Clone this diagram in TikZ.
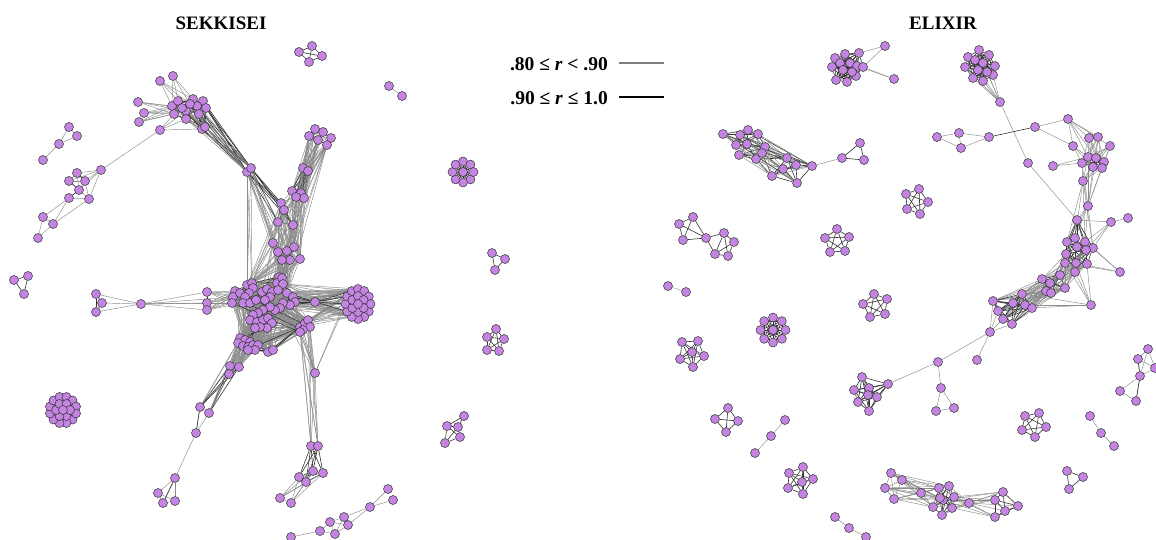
\documentclass[tikz,border=0pt]{standalone}
\usepackage{fontspec}
\setmainfont{Liberation Serif}
\pgfdeclarelayer{bgw}\pgfdeclarelayer{bg}\pgfsetlayers{bgw,bg,main}
\definecolor{nodefill}{RGB}{196,132,226}
\tikzset{
 nd/.style={circle,draw=black!80,fill=nodefill,line width=0.5pt,inner sep=0pt,minimum size=9pt},
 eg/.style={draw=black!45,line width=0.45pt},
 ek/.style={draw=black!80,line width=0.6pt},
 ttl/.style={font=\bfseries\fontsize{19}{22}\selectfont,inner sep=0pt},
 lgt/.style={font=\bfseries\fontsize{19.5}{23}\selectfont,inner sep=0pt}
}
\newcommand\mypts[2]{\foreach \x/\y [count=\k] in {#2} \node[nd] (#1\k) at (\x,\y) {};}
\newcommand\myring[7]{\foreach \k in {1,...,#6}\node[nd] (#1\k) at ({#2+#4*cos(#7+360*\k/#6)},{#3+#5*sin(#7+360*\k/#6)}) {};}
\newcommand\myclq[3]{\foreach \i in {1,...,#2}{\foreach \j in {1,...,#2}{\ifnum\i<\j\relax\draw[#3] (#1\i)--(#1\j);\fi}}}
\newcommand\mymesh[4]{\foreach \i in {1,...,#2}{\foreach \d in {#3}{\pgfmathtruncatemacro\jj{mod(\i+\d-1,#2)+1}\draw[#4] (#1\i)--(#1\jj);}}}
\newcommand\mybip[5]{\foreach \i in {#2}{\foreach \j in {#4}{\draw[#5] (#1\i)--(#3\j);}}}
\newcommand\myedges[3]{\foreach \i/\j in {#2}{\draw[#3] (#1\i)--(#1\j);}}
\begin{document}
\begin{tikzpicture}[x=1pt,y=-1pt]
\begin{pgfonlayer}{bgw}
\fill[white] (0,0) rectangle (1156,540);
\end{pgfonlayer}
\useasboundingbox (0,0) rectangle (1156,540);
% titles and legend
\node[ttl] (ts) at (221,23) {SEKKISEI};
\node[ttl] (te) at (943,23) {ELIXIR};
\node[lgt,anchor=east] (lg1) at (608,64) {.80 ≤ \textit{r} < .90};
\node[lgt,anchor=east] (lg2) at (608,98) {.90 ≤ \textit{r} ≤ 1.0};
\coordinate (lga) at (619,63); \coordinate (lgb) at (664,63);
\coordinate (lgc) at (619,97); \coordinate (lgd) at (664,97);
\draw[black!50,line width=2pt] (lga)--(lgb);
\draw[black,line width=2.6pt] (lgc)--(lgd);
% ================= SEKKISEI nodes =================
\mypts{q}{299/52,312/46,322/56,309/62}
\mypts{pp}{389/86,402/96}
\mypts{h}{160/81,173/76,138/102,144/113,139/122,160/130}
\mypts{k}{172/106,178/101,174/114,186/111,186/119,193/99,203/101,197/106,206/108,199/114,202/129,205/127,190/104,182/108}
\mypts{lc}{69/127,77/136,59/144,43/160}
\mypts{m}{101/170,77/173,69/181,85/181,79/190,69/198,89/199,43/217,53/224,38/238}
\mypts{lt}{14/280,28/276,24/294}
\mypts{ml}{96/294,102/303,96/312,141/304}
\mypts{cl}{207/292,207/303,207/310}
\mypts{yr}{315/129,323/132,331/138,309/136,318/140,327/145}
\mypts{ya}{303/168,308/171}
\mypts{yb}{292/191,301/193,304/198,296/197}
\mypts{yc}{281/203,284/210,278/222,293/225}
\mypts{yd}{273/243,278/252,287/251,294/247,290/260,300/259,282/260}
\mypts{ye}{279/277,282/282}
\mypts{y}{247/172,251/168}
\mypts{c}{235/291,233/297,232/303,240/293,247/285,252/283,253/288,249/293,245/297,243/303,250/303,256/300,262/292,267/289,272/292,270/297,265/300,277/283,282/278,283/284,278/290,287/293,293/297,295/302,290/305,283/303,280/308,275/310,270/307,263/310,258/313,253/315,250/320,257/322,263/320,268/318,272/323,267/328,260/327,255/328,240/338,245/340,250/342,238/343,243/346,248/347,253/345,258/345,255/350,248/350,268/352,273/350,300/327,305/323,308/320,310/327,303/330,300/332}
\myring{rbo}{358}{304}{12.5}{15}{12}{0}
\myring{rbi}{358}{304}{6.5}{8}{6}{30}
\node[nd] (rbi7) at (358,304) {};
\mypts{rx}{315/302}
\mypts{lo}{315/373,311/446,318/446,313/471,323/473,299/477,306/482,280/498,291/503}
\mypts{ll}{230/366,239/367,229/374,200/407,209/413,196/433,175/478,158/493,163/503,175/501}
\mypts{bc}{388/489,393/500,370/507,344/517,330/522,348/525,320/531,335/534,291/537}
\myring{bo}{63}{410}{13.5}{13.5}{12}{15}
\myring{bi}{63}{410}{7}{7}{6}{0}
\node[nd] (bi7) at (63,410) {};
\mypts{rp}{496/329,487/337,504/339,487/350,499/351}
\mypts{rq}{464/416,447/426,458/427,460/437,445/443}
\myring{fl}{463}{172}{10.5}{10.5}{8}{0}
\node[nd] (fl9) at (463,172) {};
\mypts{tr}{492/253,505/259,495/270}
% ================= ELIXIR nodes =================
\mypts{xa}{835/58,845/54,859/53,832/67,840/63,850/63,857/66,863/67,836/80,847/82,856/76,843/70,852/72,885/46,894/79}
\mypts{xb}{968/57,979/50,989/55,965/67,975/60,983/63,995/66,973/78,983/81,993/75,978/70,987/72,1000/102}
\mypts{xch}{937/137,959/133,961/148,989/137,1035/127}
\mypts{xc}{1068/119,1073/146,1089/138,1098/137,1110/146,1082/163,1088/157,1096/158,1104/162,1093/167,1102/168,1053/166,1083/181,1088/206,1028/163}
\mypts{xd}{1077/220,1111/222,1128/218,1067/242,1075/238,1085/242,1093/248,1066/254,1077/247,1086/250,1065/263,1076/263,1087/264,1075/272,1120/272,1091/305}
\mypts{xe}{1042/279,1050/283,1060/275,1065/288,1046/291,1051/293}
\mypts{xf}{993/301,1022/294,1013/303,1025/305,1032/308,998/311,1003/319,1012/324}
\mypts{xg}{990/332,977/360,938/362,941/388,936/411,954/408}
\mypts{xh}{862/377,888/384,854/390,869/388,877/397,858/402,869/411,868/395}
\mypts{xi}{693/217,679/224,683/240,706/238,724/233,734/242,715/254,728/256}
\mypts{xj}{723/134,740/135,748/130,758/134,736/145,747/144,765/147,739/155,756/159,762/153,787/158,772/176,783/169,797/183,796/165,812/166}
\mypts{xt}{842/158,860/143,864/160}
\mypts{xk}{919/189,906/194,928/202,907/209,920/214}
\mypts{xl}{837/229,825/238,849/237,830/252,845/251}
\mypts{xm}{874/294,863/304,887/299,870/317,885/314}
\mypts{xn}{668/286,686/292}
\myring{xo}{773}{330}{12.5}{12.5}{8}{0}
\node[nd] (xo9) at (773,330) {};
\mypts{xp}{682/342,698/341,692/352,704/356,680/359,693/367}
\mypts{xq}{728/408,715/419,738/421,726/432}
\mypts{xr}{785/420,771/436,755/453}
\mypts{xs}{789/473,803/467,813/479,802/482,788/488,803/494}
\mypts{xu}{835/517,849/528,866/537}
\mypts{xv}{891/473,902/480,885/488,894/499,921/493,939/488,949/486,954/497,943/500,933/507,942/515,952/508,940/498,969/503,1003/492,995/500,1018/506,995/517,1005/511}
\mypts{xw}{1025/416,1039/413,1046/427,1022/430,1035/437}
\mypts{xx}{1090/416,1101/433,1114/446}
\mypts{xy}{1067/471,1083/477,1069/489}
\mypts{xz}{1148/349,1138/359,1155/368,1140/376,1120/391,1136/401}
% ================= edges =================
\begin{pgfonlayer}{bg}
% SEKKISEI
\myclq{q}{4}{ek}
\draw[eg] (pp1)--(pp2);
\mymesh{k}{14}{1,2,3,5}{ek}
\mymesh{k}{14}{4,6}{eg}
\mybip{h}{1,2}{k}{1,2,6,13}{eg}
\mybip{h}{3,4,5}{k}{1,3,4,14}{eg}
\mybip{h}{6}{k}{3,5,4,11}{eg}
\draw[eg] (h6)--(m1);
\mybip{k}{9,10,11,12,7,8}{y}{1,2}{ek}
\mybip{k}{4,5,6,13}{y}{1,2}{eg}
\draw[ek] (y1)--(y2);
\mybip{y}{1,2}{yc}{1,2,3,4}{ek}
\mybip{y}{1,2}{yd}{1,2,3,7}{eg}
\mybip{y}{1,2}{c}{5,6,19}{eg}
\myedges{lc}{1/2,1/3,2/3,3/4}{eg}
\myedges{m}{1/2,1/3,1/4,1/5,1/7,2/3,2/4,3/5,4/5,2/5,3/4,5/6,5/7,6/7,4/7,6/8,6/9,8/9,8/10,9/10,7/9}{eg}
\myedges{m}{2/4,3/5,5/6}{ek}
\myclq{lt}{3}{ek}
\myclq{yr}{6}{eg}
\myedges{yr}{1/2,2/3,4/5,5/6}{ek}
\mybip{yr}{1,...,6}{ya}{1,2}{eg}
\mybip{yr}{1,...,6}{yb}{1,2,3,4}{eg}
\mybip{ya}{1,2}{yb}{1,2,3,4}{ek}
\draw[ek] (ya1)--(ya2);
\myclq{yb}{4}{ek}
\mybip{yb}{1,...,4}{yc}{1,2,3,4}{eg}
\myclq{yc}{4}{ek}
\mybip{yc}{1,...,4}{yd}{1,...,7}{eg}
\myclq{yd}{7}{eg}
\mybip{yd}{1,...,7}{ye}{1,2}{eg}
\mybip{ya}{1,2}{yd}{2,3,4,6}{eg}
\mybip{yb}{1,...,4}{yd}{3,4,6}{eg}
\mybip{yd}{1,...,7}{c}{5,6,14,18,19,20,22}{eg}
\mybip{ye}{1,2}{c}{5,6,7,18,19,20}{ek}
\mybip{yr}{4,5,6}{c}{19,20,22}{eg}
\mybip{yc}{1,3}{c}{5,6,13}{eg}
\mymesh{c}{58}{1,2,4,5,7,9,11,14,18,23,29}{eg}
\mymesh{c}{58}{3}{ek}
\mybip{cl}{1,2,3}{c}{1,2,3,4,9,10}{eg}
\myclq{cl}{3}{ek}
\mybip{ml}{4}{cl}{1,2,3}{eg}
\mybip{ml}{4}{c}{2,3,10}{eg}
\mybip{ml}{1,2,3}{ml}{4}{eg}
\myclq{ml}{3}{ek}
\mybip{rbi}{1,...,6}{rbo}{1,...,12}{eg}
\myclq{rbi}{7}{ek}
\mymesh{rbo}{12}{1,2}{eg}
\mybip{c}{15,16,20,22,23,24,25,26,27,53,54,55}{rbo}{4,5,6,7,8,9}{eg}
\mybip{rx}{1}{rbo}{5,6,7,8}{ek}
\mybip{rx}{1}{c}{22,23,24,25}{ek}
\mybip{c}{24,25,27,53,54,55,56,57,58}{lo}{1}{eg}
\mybip{rbo}{7,8}{lo}{1}{eg}
\mybip{c}{53,55,56,58}{lo}{2,3}{eg}
\mybip{lo}{1}{lo}{2,3}{eg}
\draw[ek] (lo2)--(lo3);
\mybip{lo}{2,3}{lo}{4,5,6,7}{ek}
\myedges{lo}{4/5,4/6,4/7,5/6,5/7,6/7}{ek}
\mybip{lo}{4,5,6,7}{lo}{8,9}{eg}
\draw[eg] (lo8)--(lo9);
\mybip{c}{31,32,33,41,42,43,44,45,46,47,48,49,50}{ll}{1,2,3}{eg}
\myclq{ll}{3}{ek}
\mybip{ll}{1,2,3}{ll}{4,5}{ek}
\mybip{c}{41,44,45}{ll}{4,5}{eg}
\myedges{ll}{4/5,4/6,5/6,6/7,7/8,7/9,7/10,8/9,9/10,8/10}{eg}
\myedges{ll}{4/6,7/9}{ek}
\myedges{bc}{1/3,2/3,3/4,3/6,4/5,4/6,5/6,5/7,5/8,6/8,7/8,7/9,4/8}{eg}
\myclq{bi}{7}{ek}
\mybip{bi}{1,...,6}{bo}{1,...,12}{ek}
\mymesh{bo}{12}{1,2}{ek}
\myclq{rp}{5}{ek}
\myedges{rq}{1/2,1/3,2/3,2/4,3/4,2/5,4/5,3/5}{ek}
\myclq{fl}{9}{ek}
\myclq{tr}{3}{ek}
% ELIXIR
\myclq{xa}{13}{ek}
\myedges{xa}{8/14,3/14,8/15,7/15}{eg}
\myclq{xb}{12}{ek}
\mybip{xb}{8,9,10,4,12,6,11}{xb}{13}{eg}
\draw[eg] (xb13)--(xc15);
\draw[eg] (xc15)--(xd1);
\myedges{xch}{1/2,1/3,2/3,2/4,3/4}{eg}
\draw[ek] (xch4)--(xch5);
\draw[eg] (xch5)--(xc1);
\draw[eg] (xch5)--(xc2);
\mybip{xc}{1}{xc}{2,3,4,5,7,8}{eg}
\mybip{xc}{2}{xc}{6,7,10}{eg}
\mybip{xc}{3,4,5}{xc}{6,7,8,9,10,11}{eg}
\mybip{xc}{6,7,8}{xc}{9,10,11}{ek}
\myedges{xc}{6/7,7/8,9/11,10/11}{ek}
\mybip{xc}{12}{xc}{6,7}{eg}
\mybip{xc}{13}{xc}{6,7,8,9,10,11}{eg}
\mybip{xc}{6,7,8,9,10,11,13}{xc}{14}{eg}
\draw[eg] (xc14)--(xd1);
\mybip{xc}{13,14}{xd}{4,5,6,7}{eg}
\mybip{xd}{1}{xd}{4,5,6,7,8,9,10}{ek}
\myedges{xd}{1/2,2/3,2/6,2/7,2/10}{eg}
\mybip{xd}{4,5,6,7,8}{xd}{9,10,11,12,13,14}{ek}
\myedges{xd}{4/5,5/6,6/7,4/8,11/12,12/13,13/14}{ek}
\mybip{xd}{6,7,11,12}{xd}{15}{eg}
\mybip{xd}{11,12,13,14}{xd}{16}{eg}
\mybip{xd}{8,10,11,12,13,14}{xe}{1,...,6}{eg}
\myclq{xe}{6}{ek}
\mybip{xe}{1,...,6}{xf}{1,...,8}{eg}
\myclq{xf}{8}{ek}
\mybip{xf}{2,4,5}{xd}{16}{eg}
\mybip{xf}{1,6,7,8}{xg}{1}{eg}
\myedges{xg}{1/2,1/3,3/4,4/5,4/6,5/6}{eg}
\draw[eg] (xg3)--(xh2);
\myclq{xh}{8}{ek}
\myedges{xi}{1/2,1/3,2/3,1/4,2/4,3/4,4/5,4/7,5/6,5/7,5/8,6/8,7/8,6/7}{ek}
\mymesh{xj}{16}{1,2,3}{ek}
\mymesh{xj}{16}{4,5}{eg}
\draw[eg] (xj16)--(xt1);
\myclq{xt}{3}{ek}
\myclq{xk}{5}{ek}
\myclq{xl}{5}{ek}
\myclq{xm}{5}{ek}
\draw[eg] (xn1)--(xn2);
\myclq{xo}{9}{ek}
\myclq{xp}{6}{ek}
\myclq{xq}{4}{ek}
\myedges{xr}{1/2,2/3}{eg}
\myclq{xs}{6}{ek}
\myedges{xu}{1/2,2/3}{eg}
\myedges{xv}{1/2,1/3,1/4,2/3,2/4,3/4,1/5,2/5,3/5,4/5,14/15,14/16,14/17,14/18,14/19}{eg}
\mybip{xv}{1,2,3,4,5}{xv}{6,7,9,10,13}{eg}
\mybip{xv}{6,7,8,9}{xv}{10,11,12,13}{ek}
\myedges{xv}{6/7,7/8,8/9,10/11,11/12,12/13}{ek}
\mybip{xv}{6,7,8,9,10,11,12,13}{xv}{14}{eg}
\mybip{xv}{8,9,12}{xv}{15,16,18}{eg}
\myedges{xv}{15/16,15/17,15/19,16/17,16/18,16/19,17/19,18/19,17/18}{ek}
\myclq{xw}{5}{ek}
\myedges{xx}{1/2,2/3}{eg}
\myclq{xy}{3}{ek}
\myedges{xz}{1/2,1/3,2/3,1/4,2/4,3/4,4/5,4/6,5/6}{eg}
\myedges{xz}{2/4,4/6}{ek}
\end{pgfonlayer}
\end{tikzpicture}
\end{document}
